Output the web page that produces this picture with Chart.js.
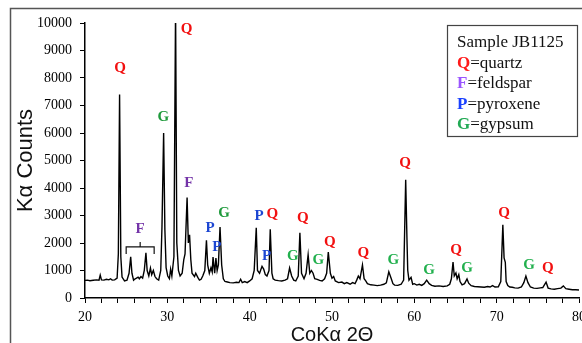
<!DOCTYPE html>
<html>
<head>
<meta charset="utf-8">
<script src="https://cdn.jsdelivr.net/npm/chart.js@4"></script>
<style>
  html, body { margin: 0; padding: 0; background: #fff; overflow: hidden; }
  #wrap { position: relative; width: 620px; height: 352px; }
</style>
</head>
<body>
<div id="wrap"><canvas id="xrdChart" width="620" height="352"></canvas></div>
<script>
// 2-theta (deg, CoKa) and counts
var twoTheta = [
  20.0, 20.3, 20.6, 21.0, 21.4, 21.7, 21.85, 22.0, 22.3, 22.6, 22.9, 23.1, 23.3, 23.6, 23.9,
  24.05, 24.2, 24.35, 24.5, 24.8, 25.1, 25.35, 25.55, 25.7, 25.9, 26.1, 26.25, 26.45, 26.6, 26.8,
  27.0, 27.2, 27.4, 27.55, 27.75, 27.95, 28.1, 28.3, 28.5, 28.7, 28.95, 29.2, 29.35, 29.55, 29.7,
  29.85, 30.05, 30.25, 30.4, 30.55, 30.8, 31.0, 31.15, 31.35, 31.55, 31.8, 32.0, 32.15, 32.4, 32.55,
  32.7, 32.85, 33.0, 33.3, 33.45, 33.7, 33.9, 34.1, 34.3, 34.55, 34.75, 34.9, 35.1, 35.3, 35.45,
  35.55, 35.75, 35.9, 36.05, 36.2, 36.4, 36.6, 36.8, 37.0, 37.3, 37.6, 38.0, 38.4, 38.7, 38.9,
  39.1, 39.4, 39.7, 40.0, 40.3, 40.55, 40.8, 40.95, 41.2, 41.5, 41.7, 41.9, 42.1, 42.35, 42.5,
  42.7, 42.85, 43.1, 43.5, 43.9, 44.3, 44.6, 44.85, 45.1, 45.35, 45.6, 45.9, 46.1, 46.3, 46.6,
  46.85, 47.1, 47.3, 47.5, 47.7, 47.9, 48.2, 48.5, 48.8, 49.1, 49.35, 49.55, 49.8, 50.0, 50.2,
  50.4, 50.8, 51.2, 51.5, 51.8, 52.2, 52.5, 52.8, 53.0, 53.2, 53.4, 53.7, 53.9, 54.1, 54.3,
  54.7, 55.1, 55.5, 55.9, 56.3, 56.6, 56.9, 57.2, 57.4, 57.6, 58.0, 58.4, 58.7, 58.95, 59.1,
  59.2, 59.35, 59.6, 59.8, 60.0, 60.3, 60.6, 60.9, 61.2, 61.5, 61.8, 62.1, 62.5, 63.0, 63.5,
  64.0, 64.3, 64.5, 64.7, 64.85, 65.05, 65.2, 65.4, 65.55, 65.8, 66.1, 66.4, 66.6, 66.9, 67.3,
  67.7, 68.1, 68.5, 68.9, 69.2, 69.5, 69.8, 70.2, 70.5, 70.75, 70.9, 71.05, 71.15, 71.35, 71.6,
  71.9, 72.2, 72.6, 73.0, 73.3, 73.55, 73.8, 74.1, 74.5, 74.9, 75.3, 75.6, 76.0, 76.25, 76.6,
  77.0, 77.4, 77.8, 78.1, 78.4, 78.8, 79.2, 79.6, 80.0
];
var counts = [
  640, 650, 630, 645, 660, 650, 830, 660, 650, 680, 660, 700, 650, 660, 720,
  1600, 7400, 1500, 760, 620, 650, 900, 1500, 900, 650, 700, 720, 760, 700, 780,
  720, 1000, 1640, 1000, 800, 1090, 850, 1000, 780, 700, 650, 1000, 2600, 6000, 2500,
  1100, 800, 700, 1050, 800, 1500, 10600, 2000, 1000, 800, 900, 1400, 1600, 3650, 2000,
  2300, 1400, 900, 780, 900, 750, 650, 680, 800, 1000, 2100, 1200, 900, 1100, 950,
  1490, 900, 1450, 1000, 1200, 2580, 1200, 700, 600, 580, 560, 550, 570, 560, 680,
  560, 600, 560, 620, 700, 1000, 2550, 1000, 900, 1150, 1050, 850, 800, 1000, 2500,
  900, 700, 650, 630, 620, 650, 700, 1090, 800, 650, 620, 800, 2370, 900, 700,
  900, 1570, 900, 1000, 900, 700, 680, 640, 620, 700, 900, 1670, 900, 720, 780,
  620, 560, 580, 520, 560, 500, 560, 520, 650, 800, 700, 1200, 700, 620, 520,
  480, 470, 450, 470, 500, 550, 950, 700, 520, 470, 460, 500, 650, 4300, 2200,
  1000, 650, 750, 500, 520, 470, 500, 460, 520, 650, 520, 460, 430, 440, 420,
  440, 500, 700, 1310, 800, 910, 700, 850, 600, 480, 520, 690, 540, 450, 420,
  410, 400, 390, 420, 400, 450, 400, 410, 600, 2660, 1460, 1300, 600, 450, 400,
  390, 370, 360, 400, 560, 800, 560, 400, 360, 350, 370, 380, 580, 360, 330,
  320, 340, 360, 440, 340, 320, 300, 300, 290
];

var xTicks = [20, 30, 40, 50, 60, 70, 80];

// phase labels: letter, 2-theta, counts (label centre)
var peakLabels = [
  ['Q', 24.25, 8370], ['Q', 32.35, 9790], ['G', 29.5, 6590], ['F', 32.6, 4190],
  ['F', 26.7, 2510], ['P', 35.2, 2550], ['P', 36.0, 1860], ['G', 36.9, 3090],
  ['P', 41.15, 2960], ['Q', 42.75, 3060], ['P', 42.05, 1530], ['G', 45.25, 1530],
  ['Q', 46.45, 2900], ['G', 48.35, 1380], ['Q', 49.75, 2040], ['Q', 53.8, 1630],
  ['G', 57.45, 1360], ['Q', 58.88, 4900], ['G', 61.8, 1020], ['Q', 65.08, 1750],
  ['G', 66.4, 1080], ['Q', 70.9, 3080], ['G', 73.95, 1200], ['Q', 76.2, 1080]
];

var labelColors = { Q: '#f21010', F: '#7434a8', P: '#1c46d2', G: '#1f9a3c' };
var legendColors = { Q: '#ff1a1a', F: '#9a55ff', P: '#1a40ff', G: '#22aa55' };
var legendLines = [['Q', '=quartz'], ['F', '=feldspar'], ['P', '=pyroxene'], ['G', '=gypsum']];

var points = twoTheta.map(function (t, i) { return { x: t, y: counts[i] }; });

var serif = '"Liberation Serif", "Times New Roman", serif';

var decorations = {
  id: 'decorations',
  beforeDraw: function (chart) {
    var ctx = chart.ctx;
    ctx.save();
    ctx.fillStyle = '#fff';
    ctx.fillRect(0, 0, chart.width, chart.height);
    ctx.strokeStyle = '#555';
    ctx.lineWidth = 1.5;
    ctx.strokeRect(10.5, 8.5, 700, 400);
    ctx.restore();
  },
  afterDraw: function (chart) {
    var ctx = chart.ctx;
    var xs = chart.scales.x, ys = chart.scales.y;
    ctx.save();

    // peak labels
    ctx.font = 'bold 15px ' + serif;
    ctx.textAlign = 'center';
    ctx.textBaseline = 'middle';
    peakLabels.forEach(function (p, i) {
      var c = labelColors[p[0]];
      if (p[0] === 'G' && i > 7) c = '#22b04e';
      ctx.fillStyle = c;
      ctx.fillText(p[0], xs.getPixelForValue(p[1]), ys.getPixelForValue(p[2]));
    });

    // feldspar bracket
    var bx0 = xs.getPixelForValue(25.0), bx1 = xs.getPixelForValue(28.4), bm = xs.getPixelForValue(26.7);
    var by0 = ys.getPixelForValue(1600), by1 = ys.getPixelForValue(1860), byt = ys.getPixelForValue(2040);
    ctx.strokeStyle = '#111';
    ctx.lineWidth = 1.2;
    ctx.beginPath();
    ctx.moveTo(bx0, by0); ctx.lineTo(bx0, by1); ctx.lineTo(bx1, by1); ctx.lineTo(bx1, by0);
    ctx.moveTo(bm, by1); ctx.lineTo(bm, byt);
    ctx.stroke();

    // legend box
    ctx.fillStyle = '#fff';
    ctx.fillRect(447, 25, 130, 111);
    ctx.strokeStyle = '#444';
    ctx.lineWidth = 1.2;
    ctx.strokeRect(447.5, 25.5, 130, 111);
    ctx.textAlign = 'left';
    ctx.textBaseline = 'alphabetic';
    ctx.fillStyle = '#111';
    ctx.font = '17px ' + serif;
    ctx.fillText('Sample JB1125', 457, 47);
    var base = [67.5, 88, 108.5, 129];
    legendLines.forEach(function (l, i) {
      ctx.font = 'bold 17px ' + serif;
      ctx.fillStyle = legendColors[l[0]];
      ctx.fillText(l[0], 457, base[i]);
      var w = ctx.measureText(l[0]).width;
      ctx.font = '17px ' + serif;
      ctx.fillStyle = '#111';
      ctx.fillText(l[1], 457 + w, base[i]);
    });
    ctx.restore();
  }
};

var ctx = document.getElementById('xrdChart').getContext('2d');
new Chart(ctx, {
  type: 'line',
  data: {
    datasets: [{
      data: points,
      borderColor: '#000',
      borderWidth: 1.4,
      pointRadius: 0,
      tension: 0,
      fill: false
    }]
  },
  options: {
    responsive: false,
    animation: false,
    layout: { padding: { top: 23, right: 41, left: 0, bottom: 0 } },
    plugins: { legend: { display: false }, tooltip: { enabled: false } },
    scales: {
      x: {
        type: 'linear',
        min: 20,
        max: 80,
        afterFit: function (s) { s.height = 54; },
        afterBuildTicks: function (s) {
          var t = [];
          for (var v = 20; v <= 80; v += 2) t.push({ value: v });
          s.ticks = t;
        },
        ticks: {
          autoSkip: false,
          maxRotation: 0,
          padding: 6,
          color: '#000',
          font: { family: serif, size: 14 },
          callback: function (v) { return xTicks.indexOf(v) >= 0 ? String(v) : ''; }
        },
        grid: { drawOnChartArea: false, tickLength: 5, color: '#000', lineWidth: 1 },
        border: { color: '#000', width: 1.5 },
        title: {
          display: true,
          text: 'CoKα 2Θ',
          color: '#111',
          font: { family: '"Liberation Sans", Arial, sans-serif', size: 20 },
          padding: { top: 0, bottom: 5 }
        }
      },
      y: {
        min: 0,
        max: 10000,
        afterFit: function (s) { s.width = 85; },
        ticks: {
          stepSize: 1000,
          padding: 8,
          color: '#000',
          font: { family: serif, size: 14 },
          callback: function (v) { return String(v); }
        },
        grid: { drawOnChartArea: false, tickLength: 5, color: '#000', lineWidth: 1 },
        border: { color: '#000', width: 1.5 },
        title: {
          display: true,
          text: 'Kα Counts',
          color: '#111',
          font: { family: '"Liberation Sans", Arial, sans-serif', size: 22 },
          padding: { top: 13, bottom: 0 }
        }
      }
    }
  },
  plugins: [decorations]
});
</script>
</body>
</html>
